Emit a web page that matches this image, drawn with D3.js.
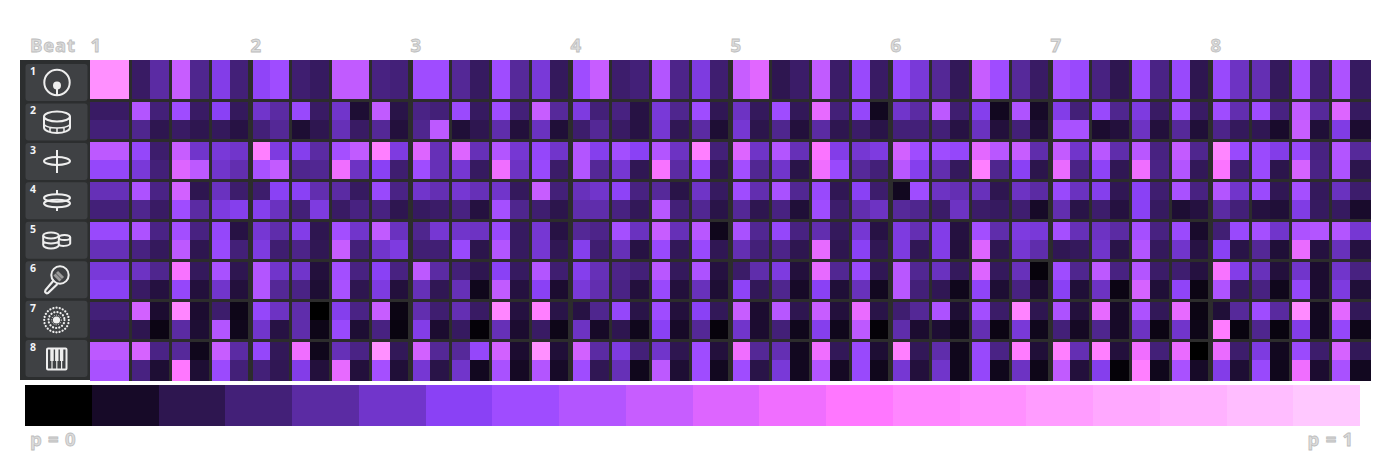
<!DOCTYPE html>
<html><head><meta charset="utf-8">
<script src="https://cdn.jsdelivr.net/npm/d3@7/dist/d3.min.js"></script>
<style>html,body{margin:0;padding:0;background:#fff}svg{display:block}
text{font-family:"Open Sans","Noto Sans",sans-serif}</style></head><body>
<svg id="c" width="1390" height="460"></svg>
<script>
// Values are read in units of legend swatches (0 = p 0 ... 20 = p 1)
const beatLabels = ["1","2","3","4","5","6","7","8"];
const trackLabels = ["1","2","3","4","5","6","7","8"];
const legendColors = ["#000000","#170a28","#2e1650","#432078","#5b2ba3","#7135cb","#8a41f5","#9f4cff","#b355ff","#c75dff","#dd65ff","#f06eff","#ff77ff","#ff86ff","#ff90ff","#ff9cff","#ffa8ff","#ffb2ff","#ffbdff","#ffc8ff"];

const track1a = [14,14,2.5,4,9,3.5,5.7,3,6.3, 7,2.8,2.4,8.7,8.7,3.2,3,7,7, 3.7,2.4,7,3.8,5.3,2.3,7,9,2.7,3, 8,3.4,5.5,2.8,9,10.2,2,2.6, 8.7,2.6,6.7,2.5,6.5,5.3,3.7,2.2,9,7, 3.8,2.5,7.3,6.7,3.2,2,7,3.3, 6.7,2,6.7,4.8,4.4,2.3,7.4,2.8,7.7,2.4];
const track1b = track1a.slice();
const track2a = [2.5,2.5,8,3,7,2.5,6,2.3,5, 4,6.7,2.5,5,1.3,8.7,1.8,3.3,3, 6.8,2.4,7,3,9,3.8,5.5,3,3.2,1.7, 5.3,3.5,7,2.1,4.8,2.3,7,2.2, 10.5,3,6.5,.8,5,4,8.5,2.8,5.8,.8, 7.8,1,5.7,3,6.7,3.5,5.5,2.5, 7.2,2.5,7,4.3,7,3.2,8.7,3.8,10,2.4];
const track2b = [3,3,3.5,2,2.5,2,2.3,1.7,3, 3.7,1.3,2,4.5,2.5,3.7,1.5,3.5,8.5, 1.4,2,4.2,1.5,4.7,1.4,2.7,3.7,2.5,1.7, 5.2,2.1,4,1.3,5.2,1.9,3.5,1.5, 4,2,2.6,1.8,3,3,3,1.7,4.7,1.5, 3,1.3,7.5,7.5,1.2,1.5,4.8,1.5, 3.8,1.4,3.4,2.3,2.1,1.1,9,1.4,5.6,1.2];
const track3a = [8.5,8.5,6.5,2.7,9,5,5.3,5,12.5, 5.5,5.8,4,7.3,8.7,12.5,5.5,10,4.5, 10,4.5,8,5.2,6.5,5,8,5.8,7.2,6, 8,4.8,12.5,3,10,4.9,8,4.5, 11.7,5.7,5.2,5.5,9.5,7,7,6.5,10.3,8.3, 9,4.2,8.8,5,8.3,4.2,8.3,3.2, 8.8,3.5,13,6.7,6.8,5.7,6.7,3.2,8,3.8];
const track3b = [6.5,6.5,5.3,3,10,8.5,5,4.3,7.5, 8.8,3.5,3.6,11,4.8,6,2.8,7,4.5, 5.2,2.4,11,4.8,6.7,2.6,8,3.7,5.2,2.1, 11.5,4,7,2,7.2,3.6,5,1.8, 11,6.7,3.8,3,8.3,5.8,4.3,2.3,12.5,3.5, 6,1.9,10.7,3.3,6.2,2.1,11,3.3, 8,2.2,11.7,2.7,6.8,1.9,9.7,3.3,7.7,1.9];
const track4a = [4.5,4.5,7.7,3.3,9.5,2,4.7,2.7,2.7, 6,6,4.3,4,2.4,6.7,3.3,5,4.4, 5.2,4.5,5,2.3,9,3,4.6,5,6.2,3.2, 3.8,1.8,4.9,2.4,7,4.3,7.5,3.6, 6.7,2.1,6,2.7,.8,7,4.8,4.4,4.6,2, 4.8,4,6.7,4.7,5.8,2.1,6,2.8, 7.5,3.2,8,5,6.8,2.1,7.3,2.3,4.7,2.7];
const track4b = [3,3,3.5,2.5,7,4,5.5,5.8,5.8, 4.7,3,5.5,2.5,3.2,3.2,2,2.4,2.6, 3.2,1.6,7.3,3.5,2.8,1.9,4.2,4.2,3.2,2.2, 8.2,3,3.6,1.8,3.7,2,3.2,1.4, 7,2.7,4.3,4.8,3.8,3.5,2.6,4.8,2.6,2.4, 2.8,1,4.3,1.8,2.7,1.6,6,2.4, 1.3,1.6,4,3,1.6,1.4,5.6,2.4,2.4,1.1];
const track5a = [6.7,6.7,7.7,3.3,7.2,3.2,6.5,1.7,5.2, 4.2,5.7,2,7.2,5,8.7,4.7,3.5,5.2, 5,4.8,6.7,2.4,5.2,1.7,3.7,3.4,7.3,4.7, 9,4.5,8.3,.7,7.5,3.6,6.5,3.2, 4.3,2.3,5.2,1.7,5.5,4.4,5.7,1.6,7.2,4.2, 5.5,5.3,7.3,4.5,4.8,4,7.3,3.2, 6.8,1.1,2.9,6.7,7.3,5,7.7,8,8,5.2];
const track5b = [4.5,4.5,3.2,2.3,8.5,2,6.7,3,5.5, 2.8,3.4,2.1,9,3,5,5.5,2.9,2.9, 6.7,1.9,8,2.4,5.2,2.1,5.8,2.8,4.5,1.7, 6.7,2.2,6.7,2.1,4.4,3,3.4,2, 10.5,2,6,2.1,5.5,2.1,5.7,1.5,10,2, 5.2,4.2,2.1,2.3,5,1.8,8,2.3, 5,1.7,6,1.8,3.7,1.4,10.7,1.6,4.6,1.6];
const track6a = [5.3,5.3,4.8,3.5,11.5,2.3,7.5,2,8, 5,5,1.5,7.2,3.2,6,3.2,8.5,4, 3,2,6,2.4,8,2.8,5.8,4.5,3.4,3, 8.3,2.3,7.7,1.6,2.6,4.2,5.5,1.5, 10.5,3.6,6.7,2.1,8.3,3.6,4.7,2.3,10,2.3, 4.6,.3,7,3.5,8.5,3.2,8,2.6, 2.8,1.6,11.5,5.7,4.6,1.5,5,1.2,5,3.2];
const track6b = [6,6,2.5,1.6,6.5,1.5,5,1.5,8, 3.7,3.3,1.3,7.5,2,5.5,1.5,4.5,2.1, 4.5,.7,8.7,1.6,6,1.2,5.3,4.3,3.3,1.5, 6.7,1.5,4.6,1.3,6.2,2.2,3.5,1, 6,1.4,4.6,.8,8.3,3,2.1,.7,6.3,1.3, 3.2,1.2,6,1.4,4.8,.5,9.7,1.4, 6.3,.5,7.8,2.3,3.2,.7,6.5,1.2,5.5,1.4];
const track7a = [3,3,9.5,1.2,13,1.2,2.7,.6,6.5, 4.8,4.2,0,5.8,3.3,9,.5,4.3,2.8, 4.4,2.5,13,1.6,12.5,1.8,1.7,3.5,6.5,1.8, 7,1.5,6,2.2,9,1.2,8.2,2, 9,1.5,10.7,1.8,2.8,3.7,7.7,1.3,7.2,2.6, 12.8,2,7.7,1.5,10.5,1,7.7,2.2, 10.5,.5,1.4,3.8,7,3.9,13.5,.8,10.3,2.2];
const track7b = [2.4,2.4,2,.5,4,1.3,8,.7,5, 1.7,4.2,.6,6.7,1.3,3.2,.4,5.7,1.2, 2.4,.2,4.5,1.2,2.5,.6,4.8,1,2,.7, 6,1,3.7,.3,5,1.2,3,.7, 5.8,.7,8.5,.2,4.2,1.2,1.3,.7,4.4,.5, 5.3,.7,3,.9,3.5,1,4.8,.5, 5,.6,12.3,.4,3.5,.4,5.7,.8,6.5,.6];
const track8a = [8.5,8.5,9.7,3.3,3.8,.7,9,4,6.5, 2.2,11,.7,4.5,3.3,14,2.2,9.5,3.7, 3.8,6.5,9.5,1.2,14,1.4,9.5,4,5.5,3, 5,2,7,1.5,11,3.7,4.4,.8, 11,2.2,6.7,1.3,12.5,2.2,4.2,.7,6.7,3.3, 12.3,1.4,12.5,4.4,12.5,1.5,11,3, 10.7,0,10.7,2.7,5.5,.8,6.8,2.7,9.7,2.2];
const track8b = [7.5,7.5,3.2,1.3,12,1.3,6.8,3,3, 2.1,5.7,1.5,10.5,1.5,7.3,1.4,5.2,1.8, 5,.8,7.5,.9,8,1,7,2.1,4.5,.7, 8.5,1.3,7,.8,7,1.8,5.3,.8, 8,.9,6.7,.7,5.2,1.5,5,.7,6.5,.7, 4.8,.6,8.7,1.5,5.8,.2,12.5,.7, 7.5,1,5.7,1.3,6.7,.7,11,1.2,7.5,.8];
const tracks = [track1a,track1b,track2a,track2b,track3a,track3b,track4a,track4b,track5a,track5b,track6a,track6b,track7a,track7b,track8a,track8b];

const svg = d3.select("#c");
const x = d3.scaleLinear().domain([0,64]).range([90,1370]);
const y = d3.scaleLinear().domain([0,16]).range([60,380]);
const color = d3.scaleLinear().domain(d3.range(20)).range(legendColors).clamp(true);
const gridColor = "#2c2c2c";

// side panel
svg.append("rect").attr("x",20).attr("y",60).attr("width",70).attr("height",320).attr("fill","#2c2e2f");

// cells
tracks.forEach((vals,r)=>{
  svg.append("g").selectAll("rect").data(vals).join("rect")
    .attr("x",(d,i)=>x(i)).attr("y",y(r))
    .attr("width",x(1)-x(0)+1).attr("height",y(1)-y(0)+1)
    .attr("fill",d=>color(d)).attr("shape-rendering","crispEdges");
});

// grid
const grid = svg.append("g").attr("fill",gridColor).attr("shape-rendering","crispEdges");
for(let s=1;s<32;s++){
  const beat = s%4===0, px = x(s*2);
  grid.append("rect").attr("x",beat?px-2:px-1).attr("y",60).attr("width",beat?5:3).attr("height",321);
}
for(let t=1;t<8;t++){
  grid.append("rect").attr("x",87).attr("y",y(t*2)-1).attr("width",1284).attr("height",3);
}

// track tiles
const tileY = d3.scaleLinear().domain([0,8]).range([64,379.5]);
trackLabels.forEach((lab,i)=>{
  const ty = tileY(i);
  svg.append("rect").attr("x",25.5).attr("y",ty).attr("width",62).attr("height",37).attr("rx",3).attr("fill","#3f4144");
  svg.append("text").attr("x",33).attr("y",ty+11).attr("text-anchor","middle")
    .attr("font-size",10.5).attr("font-weight",700).attr("fill","#f2f4f8").text(lab);
});

// icons
const ink="#eeeeee";
const ic = svg.append("g").attr("fill","none").attr("stroke",ink).attr("stroke-width",2);
// 1 kick
ic.append("circle").attr("cx",57).attr("cy",82.5).attr("r",12.7);
ic.append("circle").attr("cx",57).attr("cy",85.5).attr("r",3).attr("fill",ink);
ic.append("line").attr("x1",57).attr("x2",57).attr("y1",85).attr("y2",95);
// 2 snare
ic.append("ellipse").attr("cx",57).attr("cy",116.5).attr("rx",13).attr("ry",5);
ic.append("path").attr("d","M44 116.5V127.5C44 130.5 50 133 57 133C64 133 70 130.5 70 127.5V116.5");
ic.append("path").attr("stroke-width",1.5).attr("d","M44 124.5C47 127.5 52 128 57 128C62 128 67 127.5 70 124.5M50 127V132M57 128V133M64 127V132");
// 3 closed hat
ic.append("ellipse").attr("cx",57).attr("cy",161).attr("rx",13).attr("ry",4);
ic.append("line").attr("x1",57).attr("x2",57).attr("y1",150).attr("y2",173);
// 4 open hat
ic.append("ellipse").attr("cx",57).attr("cy",198).attr("rx",13).attr("ry",3.8);
ic.append("ellipse").attr("cx",57).attr("cy",203.5).attr("rx",13).attr("ry",3.8);
ic.append("line").attr("x1",57).attr("x2",57).attr("y1",190).attr("y2",194);
ic.append("line").attr("x1",57).attr("x2",57).attr("y1",207).attr("y2",211);
// 5 toms
ic.append("ellipse").attr("cx",51).attr("cy",235.5).attr("rx",7.8).attr("ry",3);
ic.append("path").attr("d","M43.2 235.5V245C43.2 247 47 248.5 51 248.5C55 248.5 58.8 247 58.8 245V235.5M43.2 241.5C46 244 56 244 58.8 241.5");
ic.append("ellipse").attr("cx",64.5).attr("cy",237.5).attr("rx",5.7).attr("ry",2.6);
ic.append("path").attr("d","M58.8 244.5C60 246.5 69 246.5 70.2 243.5V237.5");
// 6 mic
ic.append("circle").attr("cx",60).attr("cy",275).attr("r",8.7);
ic.append("path").attr("stroke","#9a9a9a").attr("stroke-width",3).attr("d","M54.5 274.5L60.5 280.5M57 272L63 278");
ic.append("path").attr("stroke-width",2.2).attr("d","M54 280L45.5 290C44.5 292 46 294 48 293L57.5 284");
// 7 dotted pad
[12.3,8].forEach(r=>ic.append("circle").attr("cx",56.5).attr("cy",320).attr("r",r).attr("stroke-width",2.2).attr("stroke-linecap","round").attr("stroke-dasharray","0.1 3.1"));
ic.append("circle").attr("cx",56.5).attr("cy",320).attr("r",2.6).attr("fill",ink);
ic.append("circle").attr("cx",56.5).attr("cy",320).attr("r",4.8).attr("stroke-width",1).attr("stroke-dasharray","1 1.4");
// 8 keys
ic.append("rect").attr("x",47).attr("y",348.5).attr("width",19.5).attr("height",21).attr("rx",1);
[52,56.8,61.6].forEach(k=>{
  ic.append("rect").attr("x",k-1.7).attr("y",349).attr("width",3.4).attr("height",12).attr("fill",ink).attr("stroke","none");
  ic.append("line").attr("x1",k).attr("x2",k).attr("y1",360).attr("y2",369).attr("stroke-width",1.2);
});

// header labels
const label = (t,px,py,anc)=>svg.append("text").attr("x",px).attr("y",py).attr("text-anchor",anc||"start")
  .attr("font-size",18.5).attr("font-weight",700).attr("fill","#dcdcdc").attr("stroke","#bdbdbd").attr("stroke-width",0.8)
  .attr("letter-spacing",0.8).text(t);
label("Beat",30,51.5);
beatLabels.forEach((b,i)=>label(b,x(i*8)+0.5,51.5));

// legend
const lx = d3.scaleLinear().domain([0,20]).range([25,1360]);
svg.append("g").selectAll("rect").data(legendColors).join("rect")
  .attr("x",(d,i)=>lx(i)).attr("y",385).attr("width",lx(1)-lx(0)).attr("height",41)
  .attr("fill",d=>d).attr("shape-rendering","crispEdges");
label("p = 0",30,446);
label("p = 1",1354,446,"end");
</script></body></html>
